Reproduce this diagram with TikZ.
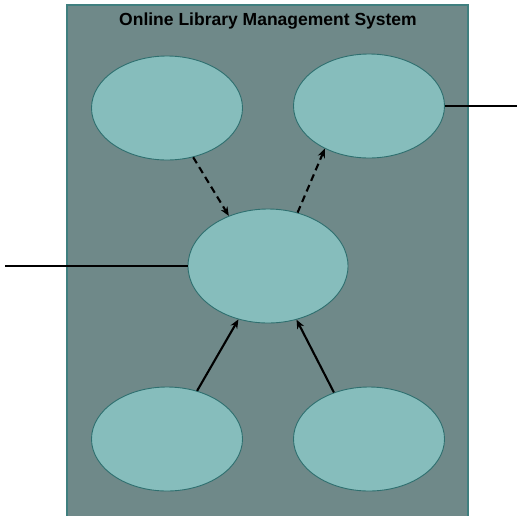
\documentclass[tikz,border=0pt]{standalone}
\usepackage{fontspec}
\setmainfont{Liberation Sans}
\usepackage{xcolor}
\usepackage{tikz}
\usetikzlibrary{positioning,arrows.meta,shapes.geometric}

\definecolor{sysfill}{HTML}{6F8989}
\definecolor{sysline}{HTML}{3F7F7F}
\definecolor{ucfill}{HTML}{86BDBC}
\definecolor{ucline}{HTML}{2F6F6F}

\begin{document}
\begin{tikzpicture}[x=1pt, y=-1pt,
  usecase/.style={ellipse, draw=ucline, fill=ucfill, line width=0.9pt,
    minimum width=151pt, minimum height=104pt, inner sep=0pt},
  link/.style={line width=2.1pt, black},
  dep/.style={line width=2.1pt, black, dash pattern=on 7pt off 4.5pt, -{Stealth[length=9pt,width=7.5pt]}},
  assoc/.style={line width=2.1pt, black, -{Stealth[length=9pt,width=7.5pt]}}]
\useasboundingbox (0,0) rectangle (517,515);
\clip (0,0) rectangle (517,515);
% system boundary
\draw[fill=sysfill, draw=sysline, line width=1.4pt] (67,5) rectangle (468,530);
\node[font=\bfseries\fontsize{17.5}{20}\selectfont] (title) at (268,21) {Online Library Management System};
% use cases
\node[usecase] (tl) at (167,108) {};
\node[usecase] (tr) at (369,106) {};
\node[usecase, minimum width=160pt, minimum height=114pt] (c) at (268,266) {};
\node[usecase] (bl) at (167,439) {};
\node[usecase] (br) at (369,439) {};
% actors' free ends
\coordinate (lend) at (5,266);
\coordinate (rend) at (520,106);
\draw[link] (lend) -- (c.west);
\draw[link] (tr.east) -- (rend);
\draw[dep] (tl.-62) -- (c.128);
\draw[dep] (c.61) -- (tr.224);
\draw[assoc] (bl.58) -- (c.241);
\draw[assoc] (br.127) -- (c.298);
\end{tikzpicture}
\end{document}
